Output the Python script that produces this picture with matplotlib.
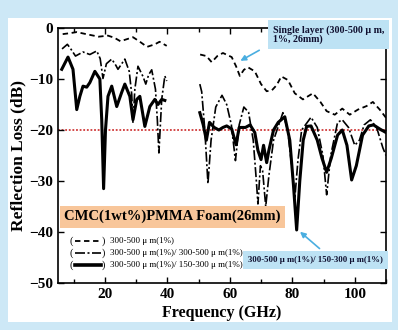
import matplotlib
matplotlib.use("Agg")
import matplotlib.pyplot as plt
from matplotlib.patches import Rectangle
from matplotlib.ticker import MultipleLocator, FixedLocator

plt.rcParams['font.family'] = ['Liberation Serif', 'DejaVu Serif']
plt.rcParams['axes.unicode_minus'] = True

# ---- data ----
single_f_low = [6.5, 9, 11, 14, 18, 21, 23, 25, 27, 29, 31, 33.5, 36, 37.5, 39.8]
single_rl_low = [-1.2, -1.0, -0.8, -1.2, -1.7, -1.5, -1.9, -2.6, -2.2, -1.8, -2.6, -3.7, -3.2, -2.7, -3.5]
single_f_high = [50.5, 52.5, 54.2, 56, 57.8, 60.6, 62, 63.2, 64.5, 65.8, 68, 70, 71.8, 73.5, 75, 76.5,
                 78.6, 80.8, 83.4, 86.6, 89, 91, 93.6, 96, 98.4, 101, 103.8, 105.8, 108, 110]
single_rl_high = [-5.2, -5.5, -6.7, -5.5, -4.9, -5.7, -7.5, -9.4, -8.2, -7.7, -8.5, -11, -12.4, -12.2, -11.2, -9.5,
                  -10.2, -12.8, -14, -12.8, -14.5, -16.3, -17, -15.8, -17, -16, -15.3, -14.5, -16, -17.6]

same_f_low = [6.3, 8.0, 9.2, 10.6, 13, 15.2, 17.4, 18.5, 19.4, 20.5, 22.2, 23.5, 24.2, 26.4, 27.8, 28.6, 29.0,
              29.6, 30.6, 32.2, 33.1, 34, 35, 36.2, 36.8, 37.3, 38.2, 39.2, 39.8]
same_rl_low = [-4.1, -3.2, -4.2, -5.5, -4.7, -5.2, -4.5, -6.0, -9.9, -7.0, -6.1, -7.3, -8.1, -6.1, -8.5, -13, -18.6,
               -12, -7.5, -9.5, -11, -9.2, -8.2, -12, -18, -24.5, -14, -9.4, -10.4]
same_f_high = [50.4, 51, 52, 53, 54, 55.5, 57.5, 59, 60.5, 61.8, 63, 64.5, 66, 67.5, 68.5, 69, 69.8, 70.5, 71.5,
               72.5, 74, 77, 78.5, 79.8, 80.8, 81.8, 83, 86, 88, 89.8, 91, 92.3, 94.5, 96, 98, 100, 101.5, 103,
               105, 107, 109, 110]
same_rl_high = [-11, -12.5, -20, -30.5, -22, -15.5, -13.2, -15, -19, -26, -19, -15.5, -16.5, -22, -30, -34.5, -27,
                -28, -35, -29, -22, -16.6, -20, -27, -33.5, -26, -20, -17.5, -19.5, -25, -32.7, -25, -18.5, -18,
                -19.5, -23, -22, -19, -18, -19.5, -23.5, -25]

dual_f_low = [6.2, 8.2, 9.8, 11, 12, 13, 14.2, 15.2, 16.8, 18.4, 19.0, 19.6, 20.2, 21, 22.2, 23.8, 25.4, 26.4,
              28, 29, 30.2, 31.2, 32.8, 34.4, 36, 37, 38.2, 39.2]
dual_rl_low = [-8.1, -5.7, -8.1, -16, -13.4, -11.4, -11.6, -10.7, -8.5, -10, -18, -31.5, -20, -13.4, -11.4, -15.4,
               -12.6, -11, -13.4, -18, -14, -13.4, -19.3, -15.4, -14, -15, -14, -14.2]
dual_f_high = [50.4, 51.5, 52.5, 53.5, 55, 56.5, 57.8, 59, 60.6, 62, 63, 65, 66.5, 68, 69, 70, 70.8, 71.8, 72.5,
               74, 75.5, 77.6, 79.2, 80.4, 81.4, 82.4, 83.5, 84.6, 86, 88, 89.5, 91, 92.5, 94.5, 96, 97.5, 99,
               100.5, 102.5, 104.5, 106, 108, 110]
dual_rl_high = [-16.6, -19, -22, -18.5, -19.5, -20, -19.5, -19.2, -19.8, -22.9, -19.5, -19.5, -19, -20.5, -24,
                -25.8, -23, -26.4, -24, -20, -18.5, -17.4, -22, -31, -39.6, -30, -22, -19.3, -19.2, -22, -25.5,
                -28.3, -25.5, -21, -20, -23, -29.8, -27, -21, -19.2, -19, -19.8, -20.5]

threshold = -20
x_ticks = [20, 40, 60, 80, 100]
y_ticks = [0, -10, -20, -30, -40, -50]

legend_labels = ['300-500 \u03bc m(1%)',
                 '300-500 \u03bc m(1%)/ 300-500 \u03bc m(1%)',
                 '300-500 \u03bc m(1%)/ 150-300 \u03bc m(1%)']

# ---- figure ----
fig = plt.figure(figsize=(3.98, 3.30), dpi=100)
fig.patch.set_facecolor('#cde8f6')
fig.add_artist(Rectangle((8 / 398, 8 / 330), 384 / 398, 304 / 330, transform=fig.transFigure,
                         facecolor='white', edgecolor='none', zorder=0))
ax = fig.add_axes([58 / 398, 47 / 330, 328 / 398, 255 / 330])
ax.set_facecolor('white')

dash_style = dict(color='black', lw=1.3, linestyle=(0, (3, 2)))
dd_style = dict(color='black', lw=1.2, linestyle=(0, (6, 1.5, 1.2, 1.5)))
solid_style = dict(color='black', lw=2.2, linestyle='-')

ax.plot(single_f_low, single_rl_low, **dash_style)
ax.plot(single_f_high, single_rl_high, **dash_style)
ax.plot(same_f_low, same_rl_low, **dd_style)
ax.plot(same_f_high, same_rl_high, **dd_style)
ax.plot(dual_f_low, dual_rl_low, **solid_style)
ax.plot(dual_f_high, dual_rl_high, **solid_style)

ax.axhline(threshold, color='#d03a3a', lw=1.3, linestyle=(0, (1, 1)), zorder=1)

ax.set_xlim(5, 110)
ax.set_ylim(-50, 0)
ax.xaxis.set_major_locator(FixedLocator(x_ticks))
ax.xaxis.set_minor_locator(MultipleLocator(10))
ax.yaxis.set_major_locator(FixedLocator(y_ticks))
ax.tick_params(which='both', direction='in', top=True, right=True, width=1.0)
ax.tick_params(which='major', length=4, labelsize=11)
ax.tick_params(which='minor', length=3)
for lab in ax.get_xticklabels() + ax.get_yticklabels():
    lab.set_fontweight('bold')
for s in ax.spines.values():
    s.set_linewidth(1.2)

ax.set_xlabel('Frequency (GHz)', fontsize=11.5, fontweight='bold', labelpad=3)
ax.set_ylabel('Reflection Loss (dB)', fontsize=12.5, fontweight='bold', labelpad=2)

# title box
ax.text(0.018, 0.26, 'CMC(1wt%)PMMA Foam(26mm)', transform=ax.transAxes, fontsize=10.5,
        fontweight='bold', va='center', ha='left',
        bbox=dict(boxstyle='square,pad=0.3', facecolor='#f8c69a', edgecolor='none'))

# custom legend
rows = [0.165, 0.118, 0.071]
styles = [dash_style, dd_style, dict(color='black', lw=2.6, linestyle='-')]
for yv, st, lab in zip(rows, styles, legend_labels):
    ax.text(0.035, yv, '(', transform=ax.transAxes, fontsize=7.5, va='center', ha='left')
    ax.plot([0.052, 0.132], [yv, yv], transform=ax.transAxes, clip_on=False, **st)
    ax.text(0.133, yv, ')', transform=ax.transAxes, fontsize=7.5, va='center', ha='left')
    ax.text(0.158, yv, lab, transform=ax.transAxes, fontsize=6.5, va='center', ha='left')

# annotation boxes
box_col = '#bde2f4'
arrow_col = '#4aaee0'
ax.annotate('', xy=(62.6, -6.7), xytext=(70.2, -4.1),
            arrowprops=dict(arrowstyle='-|>', color=arrow_col, lw=1.2, mutation_scale=8))
ax.text(0.655, 0.973, 'Single layer (300-500 \u03bc m,\n1%, 26mm)', transform=ax.transAxes,
        fontsize=7.2, fontweight='bold', va='center', ha='left', color='#101030', linespacing=1.0,
        bbox=dict(boxstyle='square,pad=0.5', facecolor=box_col, edgecolor='none'))
ax.annotate('', xy=(81.8, -39.6), xytext=(89.4, -43.6),
            arrowprops=dict(arrowstyle='-|>', color=arrow_col, lw=1.2, mutation_scale=8))
ax.text(0.785, 0.09, '300-500 \u03bc m(1%)/ 150-300 \u03bc m(1%)', transform=ax.transAxes,
        fontsize=6.3, fontweight='bold', va='center', ha='center', color='#101030',
        bbox=dict(boxstyle='square,pad=0.55', facecolor=box_col, edgecolor='none'))

fig.savefig('out.png', dpi=100, facecolor=fig.get_facecolor())
